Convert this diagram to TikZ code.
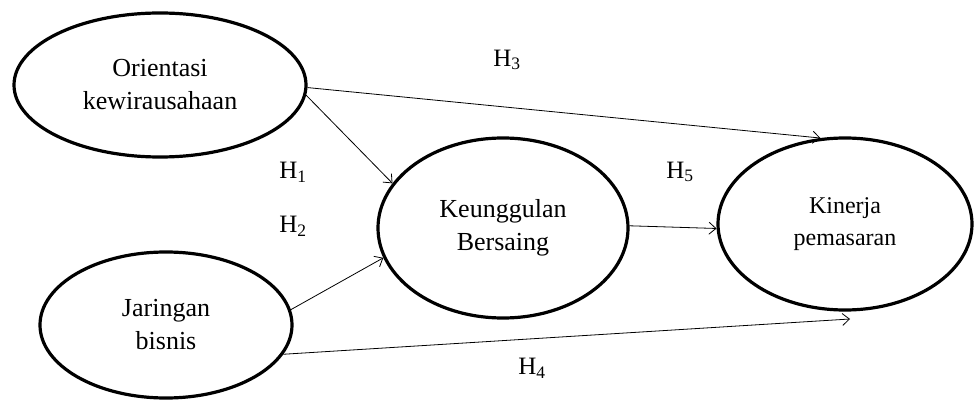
\documentclass[tikz,border=0pt]{standalone}
\usepackage{fontspec}
\setmainfont{Liberation Serif}
\usetikzlibrary{shapes.geometric,arrows.meta}
\begin{document}
\begin{tikzpicture}[x=1pt,y=-1pt,
  var/.style={ellipse,draw=black,line width=3.2pt,inner sep=0pt,align=center,
    font=\fontsize{26}{33}\selectfont},
  path/.style={draw=black,line width=0.8pt,-{Straight Barb[length=7pt,width=12pt,line width=0.8pt]}},
  hlab/.style={font=\fontsize{25}{28}\selectfont}]
\useasboundingbox (0,0) rectangle (975,401);
\node[var,minimum width=292pt,minimum height=144pt] (ok) at (160,85) {Orientasi\\kewirausahaan};
\node[var,minimum width=252pt,minimum height=146pt] (jb) at (166,325) {Jaringan\\bisnis};
\node[var,minimum width=250pt,minimum height=180pt] (ku) at (503,228) {Keunggulan\\Bersaing};
\node[var,minimum width=254pt,minimum height=172pt,font=\fontsize{24}{32}\selectfont] (kp) at (845,224) {Kinerja\\pemasaran};
\coordinate (h4end) at (850,319);
\draw[path] (ok.-1) -- (kp.106);
\draw[path] (ok.-4) -- (ku.158);
\draw[path] (jb.7) -- (ku.194);
\draw[path] (ku.1) -- (kp.182);
\draw[path] (jb.-14) -- (h4end);
\node[hlab] (h3) at (507,60) {H\textsubscript{3}};
\node[hlab] (h1) at (293,172) {H\textsubscript{1}};
\node[hlab] (h2) at (293,226) {H\textsubscript{2}};
\node[hlab] (h5) at (680,172) {H\textsubscript{5}};
\node[hlab] (h4) at (532,368) {H\textsubscript{4}};
\end{tikzpicture}
\end{document}
